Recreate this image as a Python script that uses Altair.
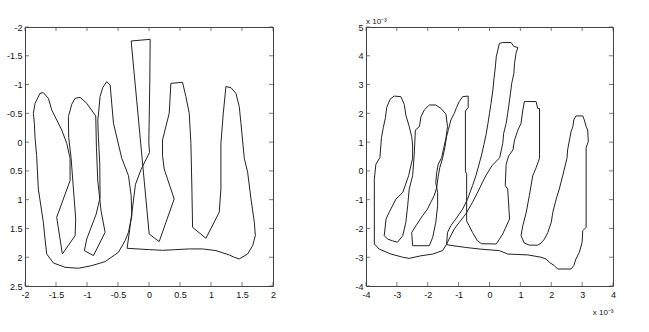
import altair as alt
import pandas as pd

# ---------------- left panel (x, y) ----------------
# loop 1: fingers 1-3 and outer bottom
L1_x = [-0.573, -0.439, -0.331, -0.288, -0.277, -0.331, -0.385, -0.493, -0.708, -0.923,
        -1.139, -1.354, -1.542, -1.650, -1.677, -1.704, -1.785, -1.812, -1.838, -1.849,
        -1.865, -1.838, -1.758, -1.704, -1.623, -1.569, -1.515, -1.408, -1.327, -1.273,
        -1.273, -1.489, -1.397, -1.192, -1.182, -1.219, -1.257, -1.295, -1.300, -1.246,
        -1.192, -1.112, -1.004, -0.859, -0.848, -0.826, -0.773, -0.708, -0.896, -1.042,
        -1.004, -0.853, -0.789, -0.794, -0.816, -0.826, -0.789, -0.746, -0.681, -0.627,
        -0.573]
L1_y = [-0.327, 0.281, 0.583, 0.930, 1.277, 1.567, 1.712, 1.914, 2.076, 2.146,
        2.192, 2.175, 2.100, 1.943, 1.683, 1.393, 0.814, 0.235, -0.078, -0.327,
        -0.500, -0.674, -0.848, -0.859, -0.761, -0.558, -0.442, -0.211, 0.021, 0.281,
        0.669, 1.306, 1.943, 1.625, 1.335, 0.814, 0.270, -0.078, -0.442, -0.657,
        -0.761, -0.778, -0.674, -0.454, 0.096, 0.675, 1.196, 1.567, 1.972, 1.885,
        1.683, 1.254, 0.965, 0.386, -0.078, -0.367, -0.790, -0.946, -1.050, -0.992,
        -0.327]
# loop 2: tall finger, fingers 4-5 and bottom line
L2_x = [-0.288, 0.019, 0.013, -0.003, 0.008, -0.127, -0.218, -0.272, -0.315, -0.353,
        0.003, 0.218, 0.433, 0.649, 0.864, 1.079, 1.295, 1.376, 1.456, 1.591,
        1.672, 1.715, 1.699, 1.645, 1.591, 1.537, 1.483, 1.456, 1.402, 1.322,
        1.241, 1.198, 1.160, 1.160, 1.133, 0.918, 0.703, 0.692, 0.676, 0.649,
        0.595, 0.541, 0.353, 0.326, 0.272, 0.218, 0.218, 0.245, 0.406, 0.164,
        0.003, -0.288]
L2_y = [-1.757, -1.786, -1.062, 0.009, 0.183, 0.472, 0.733, 1.196, 1.544, 1.845,
        1.868, 1.880, 1.868, 1.856, 1.856, 1.885, 1.961, 2.001, 2.030, 1.943,
        1.798, 1.625, 1.393, 0.988, 0.525, 0.281, -0.327, -0.616, -0.848, -0.946,
        -0.964, -0.500, 0.021, 0.814, 1.219, 1.671, 1.480, 0.814, 0.021, -0.500,
        -0.790, -1.039, -1.021, -0.500, -0.269, -0.037, 0.235, 0.467, 0.988, 1.729,
        1.596, -1.757]

# ---------------- right panel (x 1e-3, y 1e-3) ----------------
R_x = [-1.39, -1.52, -1.84, -2.22, -2.60, -2.81, -3.19, -3.57, -3.73, -3.73,
       -3.68, -3.55, -3.50, -3.44, -3.37, -3.33, -3.22, -3.09, -2.87, -2.76,
       -2.71, -2.60, -2.52, -2.49, -2.49, -2.62, -2.81, -3.03, -3.25, -3.35,
       -3.41, -3.30, -3.14, -2.98, -2.81, -2.71, -2.65, -2.60, -2.49, -2.44,
       -2.40, -2.27, -2.22, -2.11, -1.95, -1.74, -1.57, -1.41, -1.36, -1.41,
       -1.48, -1.55, -1.66, -1.71, -1.74, -1.68, -1.68, -1.74, -1.84, -1.95,
       -2.49, -2.52, -2.38, -2.17, -2.01, -1.90, -1.79, -1.71, -1.66, -1.61,
       -1.52, -1.44, -1.39, -1.33, -1.25, -1.14, -1.07, -0.98, -0.87, -0.69,
       -0.69, -0.78, -0.78, -0.74, -0.74, -0.55, -0.39, -0.26, 0.22, 0.43,
       0.65, 0.59, 0.51, 0.54, 0.62, 0.76, 0.81, 0.92, 1.02, 1.08,
       1.13, 1.51, 1.56, 1.62, 1.62, 1.51, 1.40, 1.29, 1.19, 1.08,
       1.02, 1.13, 1.29, 1.56, 1.67, 1.78, 1.89, 2.00, 2.05, 2.16,
       2.26, 2.37, 2.51, 2.53, 2.59, 2.64, 2.70, 2.73, 2.80, 3.02,
       3.07, 3.13, 3.18, 3.20, 3.13, 3.13, 3.02, 3.00, 2.91, 2.80,
       2.73, 2.64, 2.21, 2.10, 1.94, 1.83, 1.67, 1.24, 0.59, 0.32,
       -0.28, -0.77, -1.31, -1.39, -1.31, -1.14, -0.98, -0.77, -0.55, -0.33,
       -0.23, -0.12, 0.08, 0.33, 0.43, 0.46, 0.54, 0.59, 0.62, 0.68,
       0.72, 0.79, 0.81, 0.86, 0.92, 0.79, 0.70, 0.43, 0.32, 0.27,
       0.22, 0.18, 0.14, 0.11, 0.05, 0.00, -0.05, -0.11, -0.18, -0.25,
       -0.44, -0.55, -0.71, -0.87, -1.09, -1.25, -1.36, -1.39]
R_y = [-2.55, -2.77, -2.89, -2.95, -3.04, -3.00, -2.89, -2.72, -2.54, -0.29,
       0.23, 0.46, 1.15, 1.50, 1.85, 2.20, 2.49, 2.60, 2.58, 2.31,
       1.94, 1.54, 1.19, 0.90, 0.44, -0.17, -0.75, -0.98, -1.44, -1.67,
       -2.25, -2.37, -2.43, -2.48, -2.25, -1.79, -1.21, -0.63, -0.17, 0.53,
       1.42, 1.54, 1.88, 2.12, 2.29, 2.29, 2.17, 1.97, 1.54, 1.15,
       0.81, 0.46, 0.23, -0.06, -0.41, -0.75, -1.21, -1.79, -2.31, -2.60,
       -2.60, -2.14, -1.90, -1.56, -1.33, -1.09, -0.86, -0.58, -0.18, 0.11,
       0.44, 0.84, 1.19, 1.44, 1.77, 2.00, 2.20, 2.41, 2.58, 2.60,
       2.20, 2.08, 0.00, -0.12, -1.74, -2.14, -2.43, -2.53, -2.54, -2.19,
       -1.67, -0.63, -0.51, 0.23, 0.52, 0.73, 1.07, 1.42, 1.65, 2.12,
       2.41, 2.41, 2.17, 2.17, 0.44, 0.11, -0.17, -0.86, -1.44, -1.90,
       -2.25, -2.51, -2.58, -2.58, -2.51, -2.37, -2.14, -1.79, -1.44, -0.98,
       -0.63, -0.17, 0.44, 0.73, 1.07, 1.36, 1.54, 1.77, 1.91, 1.91,
       1.77, 1.54, 1.42, 1.02, 0.81, -1.96, -2.08, -2.48, -2.83, -3.06,
       -3.29, -3.41, -3.41, -3.29, -3.18, -3.06, -3.00, -2.92, -2.89, -2.77,
       -2.72, -2.66, -2.58, -2.55, -2.37, -2.02, -1.79, -1.50, -1.09, -0.63,
       -0.40, -0.17, 0.18, 0.46, 0.96, 1.31, 1.65, 2.00, 2.23, 2.70,
       3.04, 3.39, 3.74, 4.09, 4.29, 4.32, 4.46, 4.46, 4.43, 4.20,
       3.97, 3.51, 3.16, 2.81, 2.35, 2.00, 1.65, 1.27, 0.92, 0.58,
       -0.17, -0.51, -0.98, -1.33, -1.67, -1.90, -2.14, -2.55]

# tick values
LX_TICKS = [-2, -1.5, -1, -0.5, 0, 0.5, 1, 1.5, 2]
LY_TICKS = [-2, -1.5, -1, -0.5, 0, 0.5, 1, 1.5, 2, 2.5]
RX_TICKS = [-4, -3, -2, -1, 0, 1, 2, 3, 4]
RY_TICKS = [-4, -3, -2, -1, 0, 1, 2, 3, 4, 5]
EXP_LABEL = "x 10\u207b\u00b3"

FONT = "Liberation Sans"
INK = "#222222"
FRAME = "#444444"


def make_df(xs, ys, seg):
    return pd.DataFrame({"x": xs, "y": ys, "i": list(range(len(xs))), "seg": seg})


def panel(df, xdom, ydom, xticks, yticks, w, h, yrev, title_text, xtitle):
    lbl = "datum.value + ''"
    x_axis = alt.Axis(values=xticks, labelExpr=lbl, ticks=False, grid=False, domain=False,
                      labelOverlap=False, labelFlush=False,
                      labelFont=FONT, labelFontSize=9, labelColor="#111", labelPadding=4,
                      title=xtitle if xtitle else "", titleFont=FONT, titleFontSize=8,
                      titleFontWeight="normal", titleAnchor="end", titlePadding=9,
                      titleColor="#111")
    y_axis = alt.Axis(values=yticks, labelExpr=lbl, ticks=False, grid=False, domain=False,
                      labelOverlap=False, labelFlush=False,
                      labelFont=FONT, labelFontSize=9, labelColor="#111", labelPadding=3,
                      title="")
    xs = alt.Scale(domain=xdom, nice=False, zero=False)
    ys = alt.Scale(domain=ydom, nice=False, zero=False, reverse=yrev)

    xt = pd.DataFrame({"x": xticks})
    yt = pd.DataFrame({"y": yticks})
    ybot = ydom[1] if yrev else ydom[0]
    ytop = ydom[0] if yrev else ydom[1]

    line = alt.Chart(df).mark_line(color=INK, strokeWidth=1, clip=True).encode(
        x=alt.X("x:Q", scale=xs, axis=x_axis),
        y=alt.Y("y:Q", scale=ys, axis=y_axis),
        detail="seg:N",
        order="i:Q",
    )
    tick_b = alt.Chart(xt).mark_tick(orient="vertical", size=4, yOffset=-2, thickness=1,
                                     color=FRAME).encode(
        x=alt.X("x:Q", scale=xs, axis=x_axis),
        y=alt.YDatum(ybot, scale=ys, axis=y_axis))
    tick_t = alt.Chart(xt).mark_tick(orient="vertical", size=4, yOffset=2, thickness=1,
                                     color=FRAME).encode(
        x=alt.X("x:Q", scale=xs, axis=x_axis),
        y=alt.YDatum(ytop, scale=ys, axis=y_axis))
    tick_l = alt.Chart(yt).mark_tick(orient="horizontal", size=4, xOffset=2, thickness=1,
                                     color=FRAME).encode(
        y=alt.Y("y:Q", scale=ys, axis=y_axis),
        x=alt.XDatum(xdom[0], scale=xs, axis=x_axis))
    tick_r = alt.Chart(yt).mark_tick(orient="horizontal", size=4, xOffset=-2, thickness=1,
                                     color=FRAME).encode(
        y=alt.Y("y:Q", scale=ys, axis=y_axis),
        x=alt.XDatum(xdom[1], scale=xs, axis=x_axis))
    return alt.layer(line, tick_b, tick_t, tick_l, tick_r).properties(
        width=w, height=h,
        title=alt.TitleParams(title_text, anchor="start", frame="group", font=FONT,
                              fontSize=8, fontWeight="normal", color="#111", offset=-3),
    )


left_df = pd.concat([make_df(L1_x, L1_y, "a"), make_df(L2_x, L2_y, "b")], ignore_index=True)
right_df = make_df(R_x, R_y, "a")

left = panel(left_df, [-2, 2], [-2, 2.5], LX_TICKS, LY_TICKS, 248, 259, True, " ", None)
right = panel(right_df, [-4, 4], [-4, 5], RX_TICKS, RY_TICKS, 247, 259, False, EXP_LABEL, EXP_LABEL)

chart = alt.hconcat(left, right, spacing=77).properties(
    padding={"left": 5, "top": 17, "right": 0, "bottom": 0},
    background="white",
).configure_view(stroke=FRAME, strokeWidth=1)

chart.save("out.html", embed_options={"renderer": "svg", "actions": False})
